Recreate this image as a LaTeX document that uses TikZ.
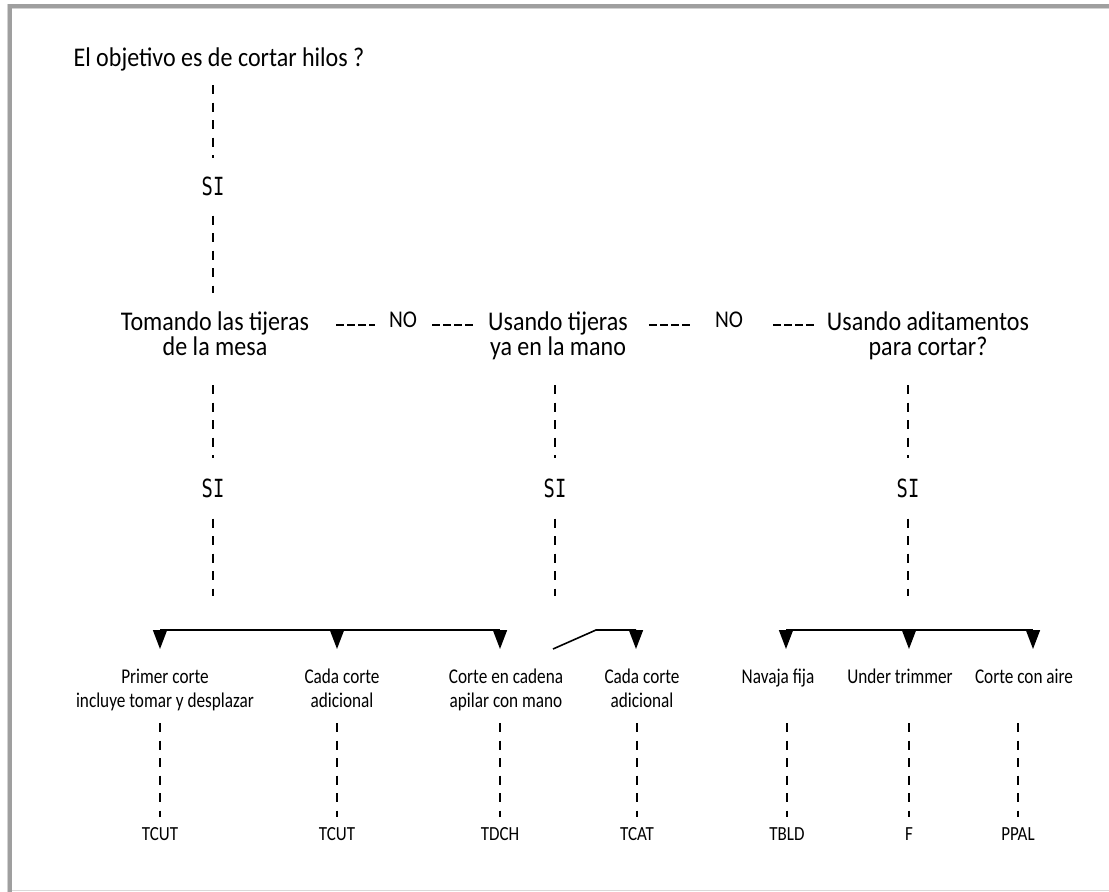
\documentclass[tikz,border=0pt]{standalone}
\usepackage{fontspec}
\usetikzlibrary{arrows.meta,calc}
\newfontfamily\bigf[FakeStretch=0.89]{Carlito}
\newfontfamily\smallf[FakeStretch=0.82]{Carlito}
\newfontfamily\codef[FakeStretch=0.85]{Carlito}
\newfontfamily\monof[FakeStretch=0.75]{DejaVu Sans Mono}
\begin{document}
\begin{tikzpicture}[x=1pt,y=-1pt,
  txt/.style={inner sep=0pt, text=black},
  titlef/.style={txt, font=\bigf\fontsize{27}{25}\selectfont},
  big/.style={txt, font=\bigf\fontsize{27}{25}\selectfont, align=center},
  nof/.style={txt, font=\bigf\fontsize{24}{24}\selectfont},
  sif/.style={txt, font=\monof\fontsize{25}{25}\selectfont},
  small/.style={txt, font=\smallf\fontsize{21}{24}\selectfont, align=center},
  code/.style={txt, font=\codef\fontsize{20}{20}\selectfont},
  vd/.style={line width=1.3pt, dash pattern=on 9pt off 8.5pt},
  hd/.style={line width=1.5pt, dash pattern=on 8pt off 3pt},
  bar/.style={line width=1.6pt},
  tri/.style={line width=1.6pt, -{Triangle[width=14pt,length=19pt]}},
]
\useasboundingbox (0,0) rectangle (1109,892);
% frame
\fill[white] (0,0) rectangle (1109,892);
\fill[gray!75] (8,4) rectangle (1109,8);
\draw[gray!35, line width=1pt] (12,8.5) -- (1109,8.5);
\fill[gray!75] (8,4) rectangle (12,892);
\draw[gray!35, line width=1pt] (7,4) -- (7,892);
\draw[gray!30, line width=1pt] (12,890.5) -- (1109,890.5);

% top
\node[titlef, anchor=base] (title) at (219,66) {El objetivo es de cortar hilos ?};
\node[sif, anchor=base] (si0) at (213,195) {SI};

% level 2 (base = last line)
\node[big, anchor=base] (tom) at (215,355) {Tomando las tijeras\\de la mesa};
\node[nof, anchor=base] (no1) at (403,327) {NO};
\node[big, anchor=base] (ust) at (558,355) {Usando tijeras\\ya en la mano};
\node[nof, anchor=base] (no2) at (729,327) {NO};
\node[big, anchor=base] (usa) at (928,355) {Usando aditamentos\\para cortar?};

\node[sif, anchor=base] (si1) at (213,497) {SI};
\node[sif, anchor=base] (si2) at (555,497) {SI};
\node[sif, anchor=base] (si3) at (908,497) {SI};

% connectors top
\draw[vd] ($(si0 |- title.base)+(0,19)$) -- ($(si0.north)+(0,-18)$);
\draw[vd] ($(si0.south)+(0,20)$) -- ($(si0 |- tom.north)+(0,-18)$);

% horizontal NO dashes
\draw[hd] ($(tom.east |- no1.base)+(27,-2)$) -- ($(no1.west |- no1.base)+(-14,-2)$);
\draw[hd] ($(no1.east |- no1.base)+(15,-2)$) -- ($(ust.west |- no1.base)+(-15,-2)$);
\draw[hd] ($(ust.east |- no2.base)+(21,-2)$) -- ($(no2.west |- no2.base)+(-22,-2)$);
\draw[hd] ($(no2.east |- no2.base)+(30,-2)$) -- ($(usa.west |- no2.base)+(-12,-2)$);

% level 2 -> SI
\draw[vd] ($(si1 |- tom.base)+(0,30)$) -- ($(si1.north)+(0,-20)$);
\draw[vd] ($(si2 |- ust.base)+(0,30)$) -- ($(si2.north)+(0,-20)$);
\draw[vd] ($(si3 |- usa.base)+(0,30)$) -- ($(si3.north)+(0,-20)$);

% bars
\coordinate (b1) at (160,630);
\coordinate (b2) at (337,630);
\coordinate (b3) at (500,630);
\coordinate (d1) at (553,649);
\coordinate (k1) at (596,630);
\coordinate (b4) at (636,630);
\coordinate (b5) at (786,630);
\coordinate (b6) at (909,630);
\coordinate (b7) at (1033,630);

\draw[vd] ($(si1.south)+(0,21)$) -- ($(si1 |- b1)+(0,-34)$);
\draw[vd] ($(si2.south)+(0,21)$) -- ($(si2 |- b1)+(0,-34)$);
\draw[vd] ($(si3.south)+(0,21)$) -- ($(si3 |- b1)+(0,-34)$);

\draw[bar] (b1) -- (b3);
\draw[bar] (d1) -- (k1) -- (b4);
\draw[bar] (b5) -- (b7);
\foreach \b in {b1,b2,b3,b4,b5,b6,b7}{
  \coordinate (\b t) at ($(\b)+(0,19)$);
  \draw[tri] (\b) -- (\b t);
}

% labels (base = last line)
\node[small, anchor=base] (l1) at (165,707) {Primer corte\\incluye tomar y desplazar};
\node[small, anchor=base] (l2) at (342,707) {Cada corte\\adicional};
\node[small, anchor=base] (l3) at (506,707) {Corte en cadena\\apilar con mano};
\node[small, anchor=base] (l4) at (642,707) {Cada corte\\adicional};
\node[small, anchor=base] (l5) at (778,683) {Navaja fija};
\node[small, anchor=base] (l6) at (900,683) {Under trimmer};
\node[small, anchor=base] (l7) at (1024,683) {Corte con aire};

% codes
\node[code, anchor=base] (c1) at (160,840) {TCUT};
\node[code, anchor=base] (c2) at (337,840) {TCUT};
\node[code, anchor=base] (c3) at (500,840) {TDCH};
\node[code, anchor=base] (c4) at (637,840) {TCAT};
\node[code, anchor=base] (c5) at (787,840) {TBLD};
\node[code, anchor=base] (c6) at (909,840) {F};
\node[code, anchor=base] (c7) at (1018,840) {PPAL};

\foreach \i in {1,...,4}{
  \draw[vd] ($(l\i.base -| c\i)+(0,16)$) -- ($(c\i.north)+(0,-10)$);
}
\foreach \i in {5,...,7}{
  \draw[vd] ($(l\i.base -| c\i)+(0,40)$) -- ($(c\i.north)+(0,-10)$);
}
\end{tikzpicture}
\end{document}
